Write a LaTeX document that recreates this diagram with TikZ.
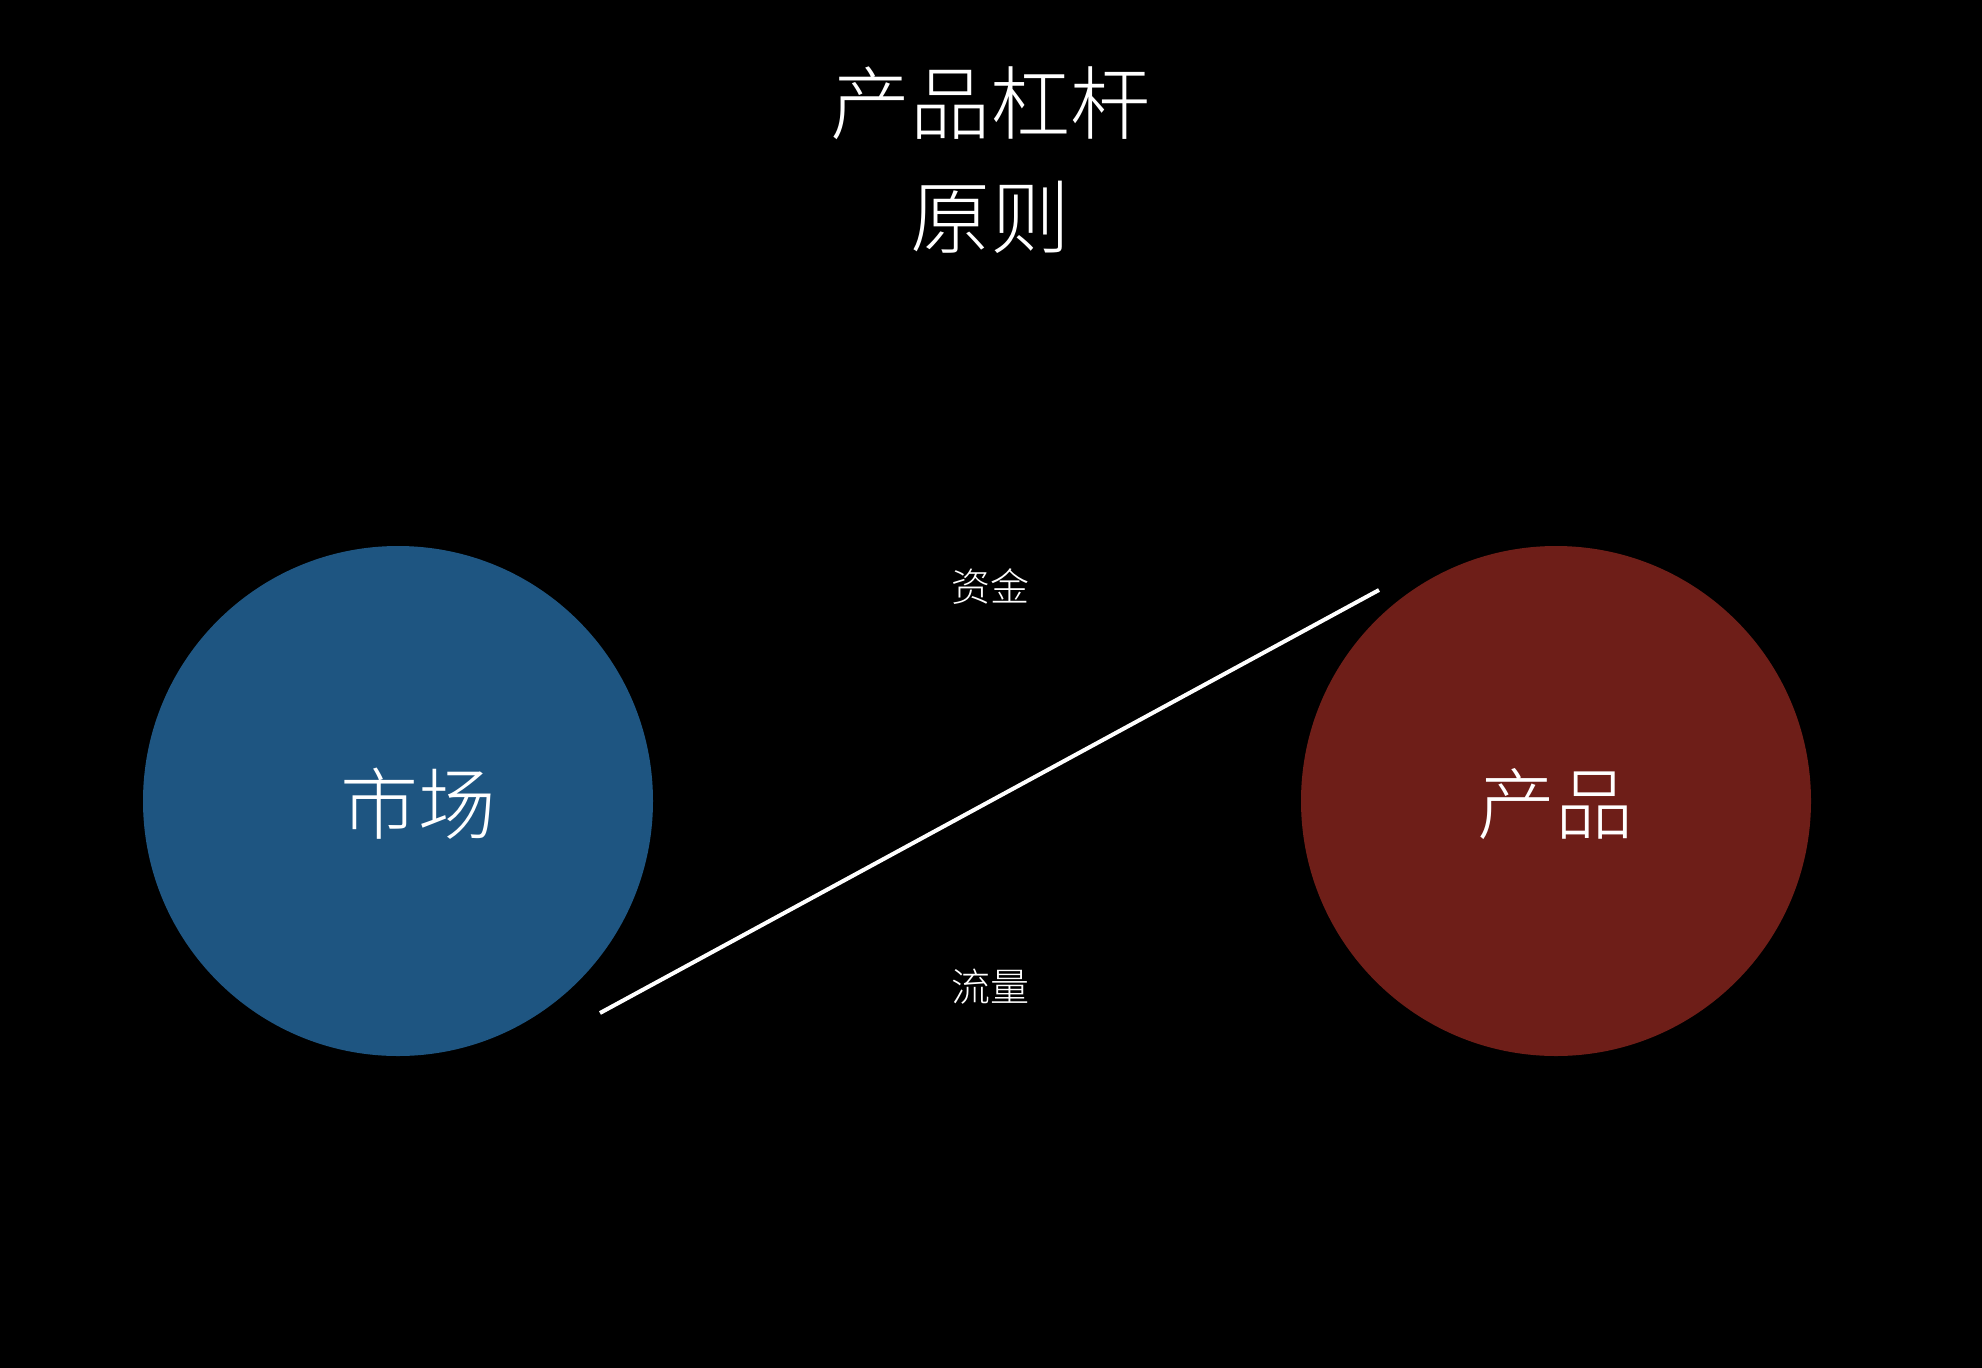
\documentclass[tikz,border=0pt]{standalone}
\usepackage{fontspec}
\newfontfamily\cjk{Noto Sans CJK SC Light}
\definecolor{mblue}{RGB}{30,85,129}
\definecolor{pred}{RGB}{110,30,24}
\begin{document}
\begin{tikzpicture}[x=1pt,y=-1pt,
  txt/.style={text=white,inner sep=0pt,font=\cjk},
  disc/.style={circle,minimum size=510pt,inner sep=0pt,draw=none}]
\fill[black] (0,0) rectangle (1982,1368);
\useasboundingbox (0,0) rectangle (1982,1368);
\node[disc,fill=mblue] (market) at (398,801) {};
\node[disc,fill=pred] (product) at (1556,801) {};
\node[txt,font=\cjk\fontsize{78}{78}\selectfont] (mlabel) at (418,804) {市场};
\node[txt,font=\cjk\fontsize{78}{78}\selectfont] (plabel) at (1555,804) {产品};
\node[txt,font=\cjk\fontsize{80}{114}\selectfont,align=center] (title) at (990,160) {产品杠杆\\原则};
\node[txt,font=\cjk\fontsize{39}{39}\selectfont] (fund) at (990,587) {资金};
\node[txt,font=\cjk\fontsize{39}{39}\selectfont] (flow) at (990,987) {流量};
\coordinate (lstart) at (600,1013);
\coordinate (lend) at (1379,590);
\draw[white,line width=4pt] (lstart) -- (lend);
\end{tikzpicture}
\end{document}
